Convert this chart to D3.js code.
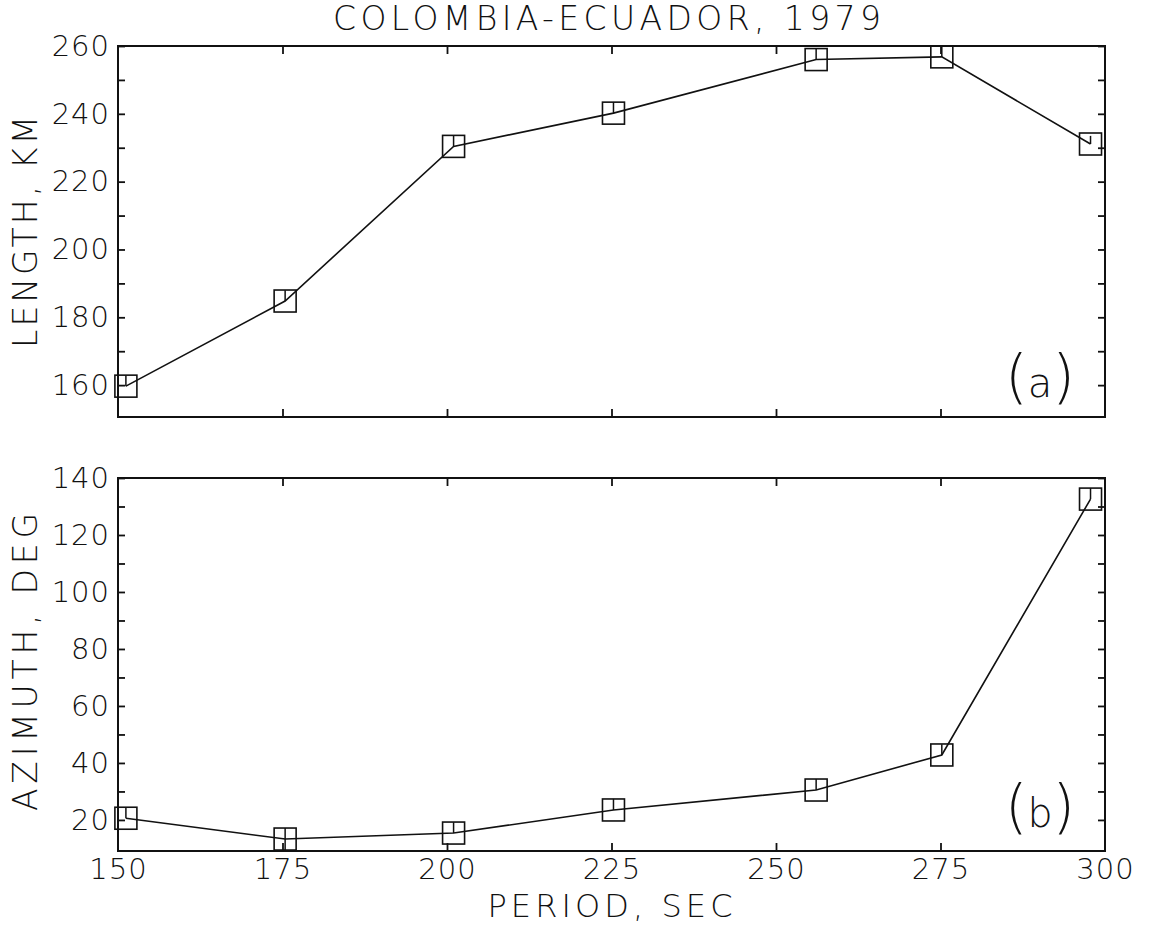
<!DOCTYPE html>
<html lang="en">
<head>
    <meta charset="UTF-8">
    <title>Colombia-Ecuador, 1979</title>
    <style>
        body {
            margin: 0;
            padding: 0;
            background: #fff;
        }

        svg text {
            font-family: "DejaVu Sans", sans-serif;
            font-weight: 200;
            fill: #111;
        }

        .axis path {
            display: none;
        }

        .axis line {
            stroke: #111;
            stroke-width: 1.8;
        }
    </style>
</head>
<body>
    <svg id="chart" width="1152" height="929"></svg>
    <script src="https://d3js.org/d3.v7.min.js"></script>
    <script>
        // values
        const periods = [151.2, 175.4, 201.0, 225.3, 256.1, 275.2, 297.8];
        const lengthKm = [159.7, 184.8, 230.4, 240.2, 256.0, 256.8, 231.1];
        const lengthErrUp = [3.2, 3.2, 3.3, 3.3, 3.4, 3.3, 2.4];
        const lengthErrDown = [0, 0, 0, 0, 0, 0, 0];
        const azimuthDeg = [20.6, 13.3, 15.4, 23.5, 30.5, 42.8, 132.6];
        const azimuthErrUp = [3.9, 3.9, 3.8, 3.9, 3.9, 3.8, 3.9];
        const azimuthErrDown = [0, 3.9, 0, 0, 0, 0, 0];

        const periodTicks = [150, 175, 200, 225, 250, 275, 300];
        const lengthTicks = d3.range(160, 261, 10);
        const azimuthTicks = d3.range(20, 141, 10);

        const svg = d3.select('#chart');

        const left = 118, right = 1105;
        const x = d3.scaleLinear().domain([150, 300]).range([left, right]);

        const panels = [
            { values: lengthKm, errUp: lengthErrUp, errDown: lengthErrDown,
              domain: [150.6, 260], top: 46, bottom: 417, ticks: lengthTicks,
              label: 'LENGTH, KM', labelY: 232, labelLen: 232, tag: ['(', 'a', ')'], tagY: 397, xLabels: false },
            { values: azimuthDeg, errUp: azimuthErrUp, errDown: azimuthErrDown,
              domain: [9.1, 140], top: 478, bottom: 851, ticks: azimuthTicks,
              label: 'AZIMUTH, DEG', labelY: 662, labelLen: 298, tag: ['(', 'b', ')'], tagY: 827, xLabels: true }
        ];

        panels.forEach(p => {
            const y = d3.scaleLinear().domain(p.domain).range([p.bottom, p.top]);
            const g = svg.append('g');

            // frame
            g.append('rect')
                .attr('x', left)
                .attr('y', p.top)
                .attr('width', right - left)
                .attr('height', p.bottom - p.top)
                .attr('fill', 'none')
                .attr('stroke', '#111')
                .attr('stroke-width', 2);

            const inner = periodTicks.filter(t => t > 150 && t < 300);

            g.append('g')
                .attr('class', 'axis')
                .attr('transform', `translate(0,${p.bottom})`)
                .call(d3.axisBottom(x).tickValues(p.xLabels ? periodTicks : inner)
                    .tickSize(-8).tickSizeOuter(0).tickPadding(7))
                .call(a => a.selectAll('line').filter(d => d === 150 || d === 300).remove())
                .call(a => a.selectAll('text')
                    .style('font-size', '29px')
                    .style('letter-spacing', '1px')
                    .attr('display', p.xLabels ? null : 'none'));

            g.append('g')
                .attr('class', 'axis')
                .attr('transform', `translate(0,${p.top})`)
                .call(d3.axisTop(x).tickValues(inner).tickSize(-8).tickSizeOuter(0).tickFormat(''));

            g.append('g')
                .attr('class', 'axis')
                .attr('transform', `translate(${left},0)`)
                .call(d3.axisLeft(y).tickValues(p.ticks).tickSize(-7).tickSizeOuter(0).tickPadding(8)
                    .tickFormat(d => d % 20 === 0 ? d : ''))
                .call(a => a.selectAll('text')
                    .style('font-size', '29px')
                    .style('letter-spacing', '1px'));

            g.append('g')
                .attr('class', 'axis')
                .attr('transform', `translate(${right},0)`)
                .call(d3.axisRight(y).tickValues(p.ticks).tickSize(-7).tickSizeOuter(0).tickFormat(''));

            // data line
            const line = d3.line()
                .x((d, i) => x(periods[i]))
                .y(d => y(d));

            g.append('path')
                .datum(p.values)
                .attr('d', line)
                .attr('fill', 'none')
                .attr('stroke', '#111')
                .attr('stroke-width', 1.6);

            // error bars
            g.selectAll('.err')
                .data(p.values)
                .join('line')
                .attr('x1', (d, i) => x(periods[i]))
                .attr('x2', (d, i) => x(periods[i]))
                .attr('y1', (d, i) => y(d + p.errUp[i]))
                .attr('y2', (d, i) => y(d - p.errDown[i]))
                .attr('stroke', '#111')
                .attr('stroke-width', 1.5);

            // square markers
            const s = 22;
            g.selectAll('.mark')
                .data(p.values)
                .join('rect')
                .attr('x', (d, i) => x(periods[i]) - s / 2)
                .attr('y', d => y(d) - s / 2)
                .attr('width', s)
                .attr('height', s)
                .attr('fill', 'none')
                .attr('stroke', '#111')
                .attr('stroke-width', 1.6);

            // y label
            g.append('text')
                .attr('transform', `translate(37,${p.labelY}) rotate(-90)`)
                .attr('text-anchor', 'middle')
                .attr('textLength', p.labelLen)
                .attr('lengthAdjust', 'spacing')
                .style('font-size', '33px')
                .text(p.label);

            // panel tag, tall parentheses
            const tag = g.append('text')
                .attr('x', 1040)
                .attr('y', p.tagY)
                .attr('text-anchor', 'middle')
                .attr('textLength', 70)
                .attr('lengthAdjust', 'spacingAndGlyphs');
            tag.selectAll('tspan')
                .data(p.tag)
                .join('tspan')
                .style('font-size', (d, i) => i === 1 ? '40px' : '58px')
                .text(d => d);
        });

        svg.append('text')
            .attr('x', 607)
            .attr('y', 30)
            .attr('text-anchor', 'middle')
            .attr('textLength', 548)
            .attr('lengthAdjust', 'spacing')
            .style('font-size', '33px')
            .text('COLOMBIA-ECUADOR, 1979');

        svg.append('text')
            .attr('x', 610)
            .attr('y', 917)
            .attr('text-anchor', 'middle')
            .attr('textLength', 245)
            .attr('lengthAdjust', 'spacing')
            .style('font-size', '32px')
            .text('PERIOD, SEC');
    </script>
</body>
</html>
